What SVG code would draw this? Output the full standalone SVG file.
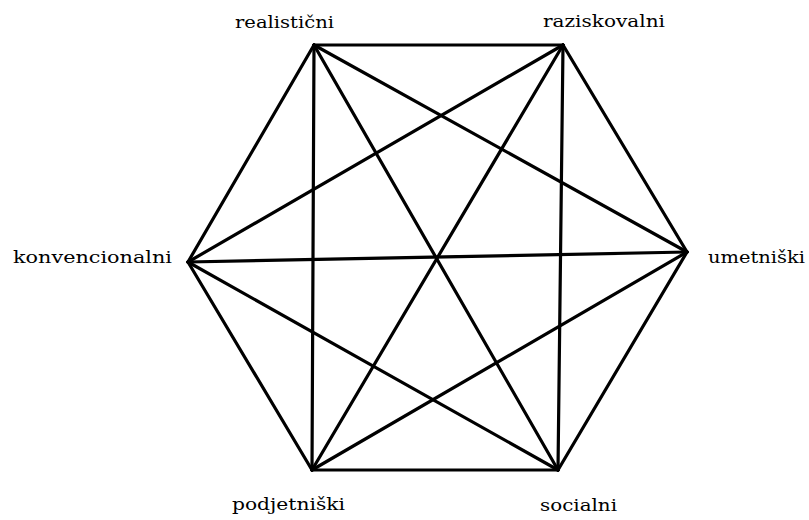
<svg xmlns="http://www.w3.org/2000/svg" width="809" height="520" viewBox="0 0 809 520">
<style>
.e{stroke:#000;stroke-width:3.2;stroke-linecap:round;fill:none}
.t{font-family:"DejaVu Serif","Liberation Serif",serif;font-size:17px;fill:#000}
</style>
<rect width="809" height="520" fill="#fff"/>
<g id="connectors">
<line class="e" x1="314" y1="45" x2="563" y2="45"/>
<line class="e" x1="563" y1="45" x2="687" y2="252"/>
<line class="e" x1="687" y1="252" x2="558" y2="470"/>
<line class="e" x1="558" y1="470" x2="312" y2="470"/>
<line class="e" x1="312" y1="470" x2="188" y2="262"/>
<line class="e" x1="188" y1="262" x2="314" y2="45"/>
<line class="e" x1="314" y1="45" x2="558" y2="470"/>
<line class="e" x1="563" y1="45" x2="312" y2="470"/>
<line class="e" x1="188" y1="262" x2="687" y2="252"/>
<line class="e" x1="314" y1="45" x2="312" y2="470"/>
<line class="e" x1="563" y1="45" x2="558" y2="470"/>
<line class="e" x1="314" y1="45" x2="687" y2="252"/>
<line class="e" x1="563" y1="45" x2="188" y2="262"/>
<line class="e" x1="188" y1="262" x2="558" y2="470"/>
<line class="e" x1="312" y1="470" x2="687" y2="252"/>
</g>
<g id="realisticni"><text class="t" x="235" y="28" textLength="99" lengthAdjust="spacingAndGlyphs">realistični</text></g>
<g id="raziskovalni"><text class="t" x="543" y="27" textLength="122" lengthAdjust="spacingAndGlyphs">raziskovalni</text></g>
<g id="konvencionalni"><text class="t" x="13" y="263" textLength="159" lengthAdjust="spacingAndGlyphs">konvencionalni</text></g>
<g id="umetniski"><text class="t" x="708" y="263" textLength="97" lengthAdjust="spacingAndGlyphs">umetniški</text></g>
<g id="podjetniski"><text class="t" x="232" y="510" textLength="113" lengthAdjust="spacingAndGlyphs">podjetniški</text></g>
<g id="socialni"><text class="t" x="540" y="511" textLength="77" lengthAdjust="spacingAndGlyphs">socialni</text></g>
</svg>
